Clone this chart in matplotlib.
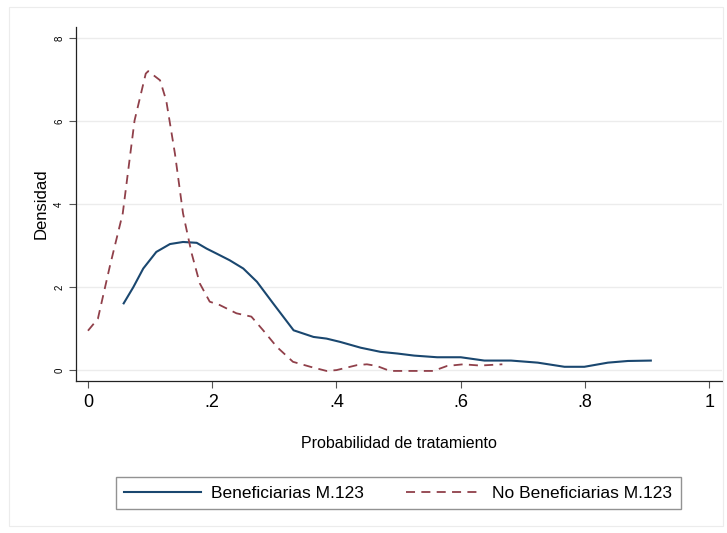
"""Kernel density of the propensity score, beneficiaries vs non-beneficiaries."""

import matplotlib
matplotlib.use("Agg")
import matplotlib.pyplot as plt
from matplotlib.patches import Rectangle

plt.rcParams["font.family"] = ["Liberation Sans", "DejaVu Sans"]

NAVY = "#1a476f"
MAROON = "#90404a"

# curves
benef_x = [0.0575, 0.073, 0.089, 0.11, 0.132, 0.153, 0.175, 0.191, 0.207, 0.228,
           0.25, 0.272, 0.298, 0.331, 0.363, 0.384, 0.406, 0.439, 0.471, 0.498,
           0.525, 0.562, 0.6, 0.638, 0.681, 0.724, 0.767, 0.799, 0.837, 0.869, 0.906]
benef_y = [1.61, 2.0, 2.45, 2.85, 3.04, 3.09, 3.07, 2.93, 2.81, 2.65,
           2.45, 2.13, 1.61, 0.96, 0.80, 0.76, 0.68, 0.54, 0.44, 0.40,
           0.35, 0.31, 0.31, 0.23, 0.23, 0.18, 0.08, 0.08, 0.18, 0.22, 0.23]

nobenef_x = [0.0, 0.016, 0.035, 0.056, 0.075, 0.093, 0.097, 0.116, 0.126, 0.14,
             0.153, 0.167, 0.18, 0.196, 0.212, 0.239, 0.263, 0.282, 0.304, 0.33,
             0.358, 0.384, 0.4, 0.433, 0.449, 0.465, 0.486, 0.556, 0.578, 0.604,
             0.631, 0.667]
nobenef_y = [0.95, 1.24, 2.49, 3.78, 6.02, 7.15, 7.21, 6.99, 6.5, 5.22,
             3.78, 2.81, 2.09, 1.65, 1.57, 1.37, 1.29, 0.96, 0.56, 0.2,
             0.08, -0.02, 0.0, 0.12, 0.14, 0.1, -0.02, -0.02, 0.1, 0.14,
             0.11, 0.14]

x_ticks = [0, 0.2, 0.4, 0.6, 0.8, 1.0]
x_ticklabels = ["0", ".2", ".4", ".6", ".8", "1"]
y_ticks = [0, 2, 4, 6, 8]
y_ticklabels = ["0", "2", "4", "6", "8"]


def main() -> None:
    fig = plt.figure(figsize=(7.27, 5.33), dpi=100)
    fig.patches.append(Rectangle((0.012, 0.013), 0.983, 0.973, transform=fig.transFigure,
                                 fill=False, edgecolor="#ececec", linewidth=0.8))
    ax = fig.add_axes([0.1045, 0.285, 0.889, 0.664])

    ax.plot(benef_x, benef_y, color=NAVY, linewidth=1.5, label="Beneficiarias M.123")
    ax.plot(nobenef_x, nobenef_y, color=MAROON, linewidth=1.3, linestyle=(0, (5, 3.5)),
            label="No Beneficiarias M.123")

    ax.set_xlim(-0.0193, 1.021)
    ax.set_ylim(-0.265, 8.27)
    ax.set_xticks(x_ticks)
    ax.set_xticklabels(x_ticklabels, fontsize=13)
    ax.set_yticks(y_ticks)
    ax.set_yticklabels(y_ticklabels, fontsize=7, rotation=90, va="center")
    ax.tick_params(axis="both", direction="out", color="#555555", length=5, width=0.8)
    ax.tick_params(axis="x", pad=4)

    ax.grid(axis="y", color="#ececec", linewidth=1.0)
    ax.set_axisbelow(True)
    for side in ("top", "right"):
        ax.spines[side].set_visible(False)
    for side in ("left", "bottom"):
        ax.spines[side].set_color("#222222")
        ax.spines[side].set_linewidth(0.9)

    ax.set_xlabel("Probabilidad de tratamiento", fontsize=11.5, labelpad=18)
    ax.set_ylabel("Densidad", fontsize=12, labelpad=4)

    leg = fig.legend(loc="center", bbox_to_anchor=(0.548, 0.075), ncol=2, fontsize=12.5,
                     frameon=True, fancybox=False, edgecolor="#777777",
                     handlelength=4.4, columnspacing=2.4, handletextpad=0.6,
                     borderpad=0.5)
    leg.get_frame().set_linewidth(1.0)

    fig.savefig("out.png", dpi=100)
    plt.close(fig)


if __name__ == "__main__":
    main()
